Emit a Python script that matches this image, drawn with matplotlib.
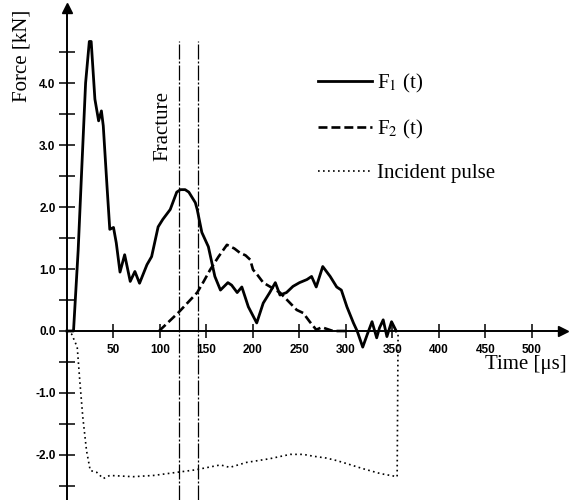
"""Force histories F1, F2 and incident pulse."""

import matplotlib

matplotlib.use('Agg')

import matplotlib.pyplot as plt
import numpy as np

# F1(t), solid
t_f1 = [0, 7, 12, 16, 20, 24, 26, 30, 34, 37, 39, 43, 46, 50, 53, 57, 62, 68, 73, 78,
        86, 91, 98, 103, 111, 118, 122, 127, 131, 138, 140, 145, 152, 159, 165, 173, 177,
        183, 188, 195, 204, 211, 218, 224, 229, 236, 243, 250, 258, 263, 268, 275, 283,
        290, 295, 301, 308, 312, 318, 323, 328, 333, 336, 340, 344, 349, 354]
f1 = [0, 0, 1.3, 2.66, 4.0, 4.67, 4.67, 3.74, 3.39, 3.55, 3.31, 2.34, 1.64, 1.67, 1.42,
      0.95, 1.23, 0.8, 0.96, 0.77, 1.07, 1.2, 1.68, 1.8, 1.96, 2.24, 2.28, 2.28, 2.24,
      2.07, 1.96, 1.59, 1.36, 0.88, 0.66, 0.78, 0.74, 0.62, 0.71, 0.39, 0.13, 0.45, 0.62,
      0.78, 0.58, 0.62, 0.72, 0.78, 0.83, 0.88, 0.71, 1.04, 0.88, 0.71, 0.66, 0.39, 0.13,
      0.0, -0.26, -0.05, 0.15, -0.11, 0.05, 0.18, -0.09, 0.15, 0.0]

# F2(t), dashed
t_f2 = [99, 120, 140, 147, 154, 163, 172, 180, 186, 192, 197, 200, 205, 211, 220, 229,
        238, 247, 254, 261, 268, 274, 280, 286, 300]
f2 = [0, 0.3, 0.62, 0.8, 0.99, 1.2, 1.39, 1.33, 1.26, 1.22, 1.15, 0.99, 0.9, 0.78, 0.7,
      0.62, 0.48, 0.34, 0.29, 0.15, 0.02, 0.06, 0.03, 0.0, 0.0]

# incident pulse, dotted
t_inc = [0, 5, 11, 14, 17, 21, 25, 32, 39, 46, 71, 93, 118, 138, 165, 175, 193, 218, 240,
         254, 265, 279, 290, 301, 318, 337, 355, 356]
f_inc = [0, -0.05, -0.26, -0.85, -1.39, -1.93, -2.25, -2.28, -2.38, -2.33, -2.35, -2.33,
         -2.28, -2.24, -2.16, -2.2, -2.12, -2.06, -1.99, -1.99, -2.02, -2.05, -2.09, -2.14,
         -2.22, -2.3, -2.35, 0]

fracture_times = [120, 141]
fracture_top = 4.67

x_ticks = [50, 100, 150, 200, 250, 300, 350, 400, 450, 500]
y_ticks = [-2.0, -1.0, 0.0, 1.0, 2.0, 3.0, 4.0]
y_minor = [-2.5, -1.5, -0.5, 0.5, 1.5, 2.5, 3.5, 4.5]


def main():
    plt.rcParams['font.family'] = ['Liberation Serif', 'DejaVu Serif']
    plt.rcParams['mathtext.fontset'] = 'stix'
    plt.rcParams['axes.unicode_minus'] = False

    fig = plt.figure(figsize=(5.81, 5.0), dpi=100)
    ax = fig.add_axes([0, 0, 1, 1])
    ax.set_xlim(-72.04, 552.7)
    ax.set_ylim(-2.726, 5.339)
    ax.patch.set_visible(False)

    ax.plot(t_f1, f1, color='black', lw=2.0, label='F$_1$ (t)', zorder=3)
    ax.plot(t_f2, f2, color='black', lw=1.9, ls=(0, (3.4, 1.5)), label='F$_2$ (t)', zorder=3)
    ax.plot(t_inc, f_inc, color='black', lw=1.2, ls=(0, (1, 2)), label='Incident pulse',
            zorder=3)

    for tf in fracture_times:
        ax.plot([tf, tf], [-2.726, fracture_top], color='black', lw=0.9,
                ls=(0, (12, 1.6, 1.6, 1.6)), zorder=2)
    ax.text(103, 3.31, 'Fracture', rotation=90, ha='center', va='center', fontsize=15)

    # axes through the origin, with arrow heads
    for side in ['top', 'right']:
        ax.spines[side].set_visible(False)
    ax.spines['left'].set_position(('data', 0))
    ax.spines['bottom'].set_position(('data', 0))
    ax.spines['left'].set_bounds(-2.726, 5.21)
    ax.spines['bottom'].set_bounds(0, 533)
    ax.spines['left'].set_linewidth(1.4)
    ax.spines['bottom'].set_linewidth(1.4)
    ax.plot(0, 5.21, marker='^', ms=7, color='black', clip_on=False)
    ax.plot(533, 0, marker='>', ms=7, color='black', clip_on=False)

    ax.set_xticks(x_ticks)
    ax.set_yticks(y_ticks)
    ax.set_yticks(y_minor, minor=True)
    ax.set_yticklabels(['%.1f' % v for v in y_ticks])
    ax.tick_params(axis='y', which='both', direction='inout', length=11.5, width=1.1,
                   pad=2.5)
    ax.tick_params(axis='x', direction='inout', length=9.4, width=1.1, pad=5)
    for lab in ax.get_xticklabels() + ax.get_yticklabels():
        lab.set_fontfamily('Liberation Sans')
        lab.set_fontweight('bold')
        lab.set_fontsize(8.5)

    ax.text(-48.4, 4.44, 'Force [kN]', rotation=90, ha='center', va='center', fontsize=15)
    ax.text(493.5, -0.548, 'Time [\u03bcs]', ha='center', va='center', fontsize=15)

    ax.legend(loc='upper left', bbox_to_anchor=(318 / 581, 1 - 72 / 500), frameon=False,
              fontsize=15, handlelength=2.6, handletextpad=0.25, labelspacing=1.1,
              borderpad=0, borderaxespad=0)

    fig.savefig('out.png', dpi=100)


if __name__ == '__main__':
    main()
